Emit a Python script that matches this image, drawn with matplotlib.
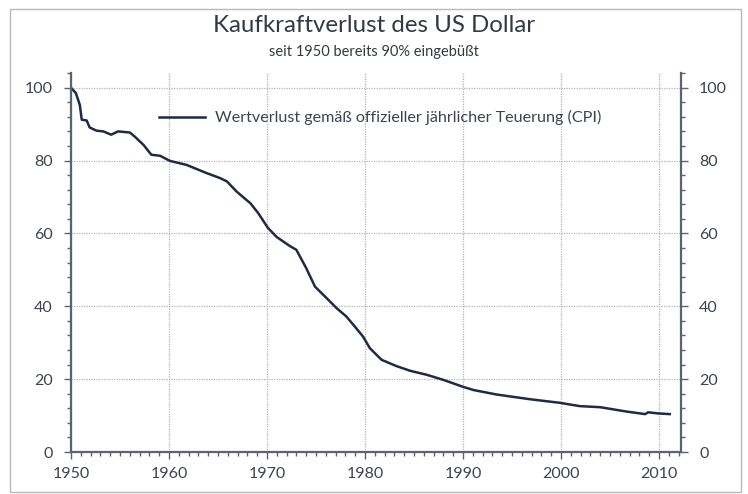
import matplotlib
matplotlib.use("Agg")
import matplotlib.pyplot as plt
from matplotlib.patches import Rectangle
from matplotlib.ticker import MultipleLocator

plt.rcParams['font.family'] = ['Lato', 'DejaVu Sans']

# Kaufkraft des US Dollar (1950 = 100)
years = [1950.0, 1950.5, 1950.9, 1951.1, 1951.6, 1951.9, 1952.6, 1953.3, 1954.1,
         1954.8, 1956.0, 1956.5, 1957.4, 1958.2, 1959.1, 1960.1, 1961.8, 1963.8,
         1965.2, 1965.9, 1966.9, 1967.9, 1968.3, 1969.1, 1970.1, 1971.0, 1972.3,
         1973.0, 1974.0, 1974.9, 1976.1, 1977.1, 1978.1, 1979.1, 1979.8, 1980.5,
         1981.7, 1983.2, 1984.6, 1986.3, 1988.0, 1990.0, 1991.1, 1993.4, 1996.8,
         1999.9, 2001.9, 2004.0, 2006.7, 2008.6, 2008.9, 2009.9, 2011.1]
value = [100.0, 98.5, 95.3, 91.2, 91.0, 89.1, 88.2, 88.0, 87.1,
         88.0, 87.7, 86.6, 84.3, 81.6, 81.3, 79.9, 78.8, 76.6,
         75.2, 74.3, 71.5, 69.2, 68.3, 65.6, 61.5, 59.0, 56.6,
         55.5, 50.5, 45.4, 42.2, 39.5, 37.2, 34.0, 31.7, 28.5,
         25.3, 23.6, 22.3, 21.2, 19.8, 17.9, 17.0, 15.8, 14.5,
         13.5, 12.6, 12.3, 11.1, 10.4, 10.9, 10.6, 10.4]

title = "Kaufkraftverlust des US Dollar"
subtitle = "seit 1950 bereits 90% eingebüßt"
label = "Wertverlust gemäß offizieller jährlicher Teuerung (CPI)"

fig = plt.figure(figsize=(7.48, 4.94), dpi=100)
ax = fig.add_axes([0.0949, 0.085, 0.8155, 0.767])

# outer frame
fig.patches.append(Rectangle((10 / 748, 2 / 494), 731 / 748, 483 / 494,
                             transform=fig.transFigure, fill=False,
                             edgecolor='#b8b8b8', linewidth=1.0))

ax.plot(years, value, color='#1f2b44', linewidth=1.8, label=label)

ax.set_xlim(1950, 2012.25)
ax.set_ylim(0, 104)
ax.xaxis.set_major_locator(MultipleLocator(10))
ax.xaxis.set_minor_locator(MultipleLocator(1))
ax.yaxis.set_major_locator(MultipleLocator(20))
ax.yaxis.set_minor_locator(MultipleLocator(4))

ax.grid(True, which='major', color='#b4b4b4', linestyle=(0, (1, 1)), linewidth=0.9)
ax.set_axisbelow(True)

spine_col = '#5b6373'
for s in ['left', 'right', 'bottom']:
    ax.spines[s].set_color(spine_col)
    ax.spines[s].set_linewidth(1.6)
ax.spines['top'].set_visible(False)

ax.tick_params(axis='both', which='major', direction='out', length=5, width=1,
               color=spine_col, labelsize=11.5, labelcolor='#3d4350')
ax.tick_params(axis='both', which='minor', direction='out', length=3, width=1,
               color=spine_col)
ax.tick_params(axis='y', which='both', left=True, right=True,
               labelleft=True, labelright=True, pad=8)
ax.tick_params(axis='x', which='major', pad=6)

ax.legend(loc='upper left', bbox_to_anchor=(0.12, 0.94), frameon=False,
          fontsize=11.6, handlelength=2.9, handletextpad=0.6,
          labelcolor='#3d4350')

fig.text(0.5, 0.949, title, ha='center', va='center', fontsize=17.3,
         color='#333a44')
fig.text(0.5, 0.895, subtitle, ha='center', va='center', fontsize=10.5,
         color='#333a44')

fig.savefig("out.png", dpi=100)
